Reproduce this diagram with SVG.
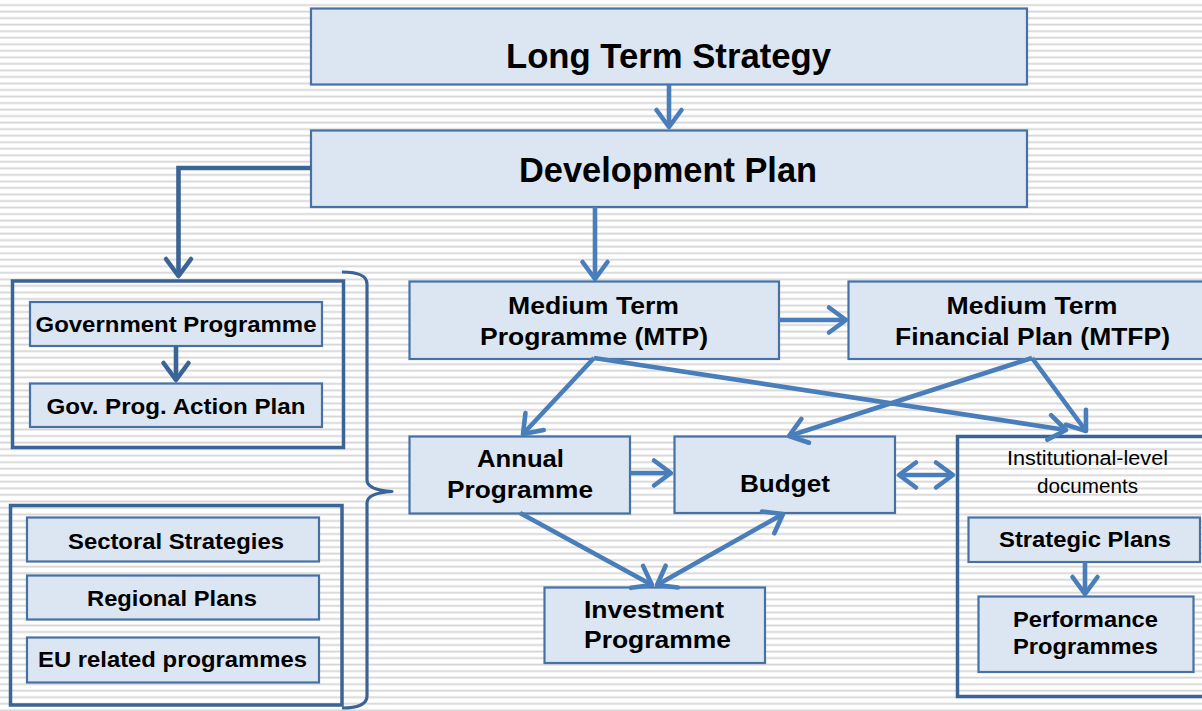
<svg xmlns="http://www.w3.org/2000/svg" width="1202" height="711" viewBox="0 0 1202 711">
  <defs>
    <!-- ruled paper background -->
    <pattern id="rules" patternUnits="userSpaceOnUse" x="0" y="3.6" width="20" height="6.53">
      <rect x="0" y="0.6" width="20" height="1.2" fill="#d1d1d1"/>
      <rect x="0" y="1.8" width="20" height="0.9" fill="#e6e6e6"/>
    </pattern>
    <!-- open chevron heads -->
    <marker id="head" markerUnits="userSpaceOnUse" viewBox="-22 -16 26 32" markerWidth="26" markerHeight="32" refX="0" refY="0" orient="auto-start-reverse" overflow="visible">
      <path d="M-17,-12.5 L0,0 L-17,12.5" fill="none" stroke="#4a7ebb" stroke-width="4.6" stroke-linecap="round" stroke-linejoin="round"/>
    </marker>
    <marker id="headDark" markerUnits="userSpaceOnUse" viewBox="-22 -16 26 32" markerWidth="26" markerHeight="32" refX="0" refY="0" orient="auto" overflow="visible">
      <path d="M-17,-12.5 L0,0 L-17,12.5" fill="none" stroke="#3a6496" stroke-width="4.6" stroke-linecap="round" stroke-linejoin="round"/>
    </marker>
    <style>
      .box { fill: #dce6f2; stroke: #4571a6; stroke-width: 2.2; }
      .frame { fill: none; stroke: #3a6496; stroke-width: 3.5; }
      .t { font-family: "Liberation Sans", Arial, sans-serif; font-weight: bold; fill: #000; text-anchor: middle; }
      .big { font-size: 35px; }
      .mid { font-size: 23.5px; }
      .small { font-size: 22.5px; }
      .plain { font-family: "Liberation Sans", Arial, sans-serif; font-size: 20px; fill: #000; text-anchor: middle; }
      .conn { fill: none; stroke: #4a7ebb; stroke-width: 4.6; }
      .connDark { fill: none; stroke: #3a6496; stroke-width: 4.6; }
    </style>
  </defs>

  <rect x="0" y="0" width="1202" height="711" fill="#ffffff"/>
  <rect x="0" y="0" width="1202" height="711" fill="url(#rules)"/>

  <!-- top level -->
  <g id="long-term-strategy">
    <rect class="box" x="311" y="8.5" width="716" height="76"/>
    <text class="t big" x="668.5" y="68" textLength="325" lengthAdjust="spacingAndGlyphs">Long Term Strategy</text>
  </g>
  <g id="development-plan">
    <rect class="box" x="311" y="130.5" width="716" height="76.5"/>
    <text class="t big" x="668" y="182" textLength="298" lengthAdjust="spacingAndGlyphs">Development Plan</text>
  </g>

  <!-- government frame -->
  <g id="government-frame">
    <rect class="frame" x="12.5" y="281" width="331" height="166.5"/>
  </g>
  <g id="government-programme">
    <rect class="box" x="30" y="302" width="292" height="44"/>
    <text class="t small" x="176" y="332" textLength="281" lengthAdjust="spacingAndGlyphs">Government Programme</text>
  </g>
  <g id="gov-action-plan">
    <rect class="box" x="30" y="383.5" width="292" height="43.5"/>
    <text class="t small" x="176" y="413.5" textLength="259" lengthAdjust="spacingAndGlyphs">Gov. Prog. Action Plan</text>
  </g>

  <!-- sectoral frame -->
  <g id="sectoral-frame">
    <rect class="frame" x="10.5" y="505.5" width="331.5" height="199.5"/>
  </g>
  <g id="sectoral-strategies">
    <rect class="box" x="27" y="517.5" width="292" height="44"/>
    <text class="t small" x="176" y="548.5" textLength="216" lengthAdjust="spacingAndGlyphs">Sectoral Strategies</text>
  </g>
  <g id="regional-plans">
    <rect class="box" x="27" y="575.5" width="292" height="44"/>
    <text class="t small" x="172" y="605.5" textLength="170" lengthAdjust="spacingAndGlyphs">Regional Plans</text>
  </g>
  <g id="eu-programmes">
    <rect class="box" x="27" y="637.5" width="292" height="45"/>
    <text class="t small" x="172.5" y="667" textLength="269" lengthAdjust="spacingAndGlyphs">EU related programmes</text>
  </g>

  <!-- curly brace grouping both frames -->
  <g id="brace">
    <path d="M342,272 Q367,272 367,284 V480 Q367,490 392,491.5 Q367,493 367,503 V696 Q367,708 342,708" fill="none" stroke="#3a6496" stroke-width="3.2" stroke-linejoin="round"/>
  </g>

  <!-- medium term level -->
  <g id="mtp">
    <rect class="box" x="409.5" y="281.5" width="369.5" height="77.5"/>
    <text class="t mid" x="593.5" y="313.5" textLength="171" lengthAdjust="spacingAndGlyphs">Medium Term</text>
    <text class="t mid" x="594" y="345" textLength="228" lengthAdjust="spacingAndGlyphs">Programme (MTP)</text>
  </g>
  <g id="mtfp">
    <rect class="box" x="848.5" y="281.5" width="360" height="77.5"/>
    <text class="t mid" x="1032" y="313.5" textLength="171" lengthAdjust="spacingAndGlyphs">Medium Term</text>
    <text class="t mid" x="1032.5" y="345" textLength="275" lengthAdjust="spacingAndGlyphs">Financial Plan (MTFP)</text>
  </g>

  <!-- annual level -->
  <g id="annual-programme">
    <rect class="box" x="409.5" y="436.5" width="220.5" height="77"/>
    <text class="t mid" x="520.5" y="467" textLength="87" lengthAdjust="spacingAndGlyphs">Annual</text>
    <text class="t mid" x="520" y="498" textLength="146" lengthAdjust="spacingAndGlyphs">Programme</text>
  </g>
  <g id="budget">
    <rect class="box" x="674.5" y="436.5" width="220.5" height="76.5"/>
    <text class="t mid" x="785" y="492" textLength="90" lengthAdjust="spacingAndGlyphs">Budget</text>
  </g>
  <g id="investment-programme">
    <rect class="box" x="544.5" y="587.5" width="220.5" height="75.5"/>
    <text class="t mid" x="654" y="618" textLength="140" lengthAdjust="spacingAndGlyphs">Investment</text>
    <text class="t mid" x="657.5" y="648" textLength="147" lengthAdjust="spacingAndGlyphs">Programme</text>
  </g>

  <!-- institutional level -->
  <g id="institutional-frame">
    <rect class="frame" x="957.5" y="436.5" width="260" height="260"/>
    <text class="plain" x="1087.5" y="465" textLength="161" lengthAdjust="spacingAndGlyphs">Institutional-level</text>
    <text class="plain" x="1087.5" y="493" textLength="101" lengthAdjust="spacingAndGlyphs">documents</text>
  </g>
  <g id="strategic-plans">
    <rect class="box" x="968.5" y="517.5" width="231.5" height="44.5"/>
    <text class="t small" x="1085" y="546.5" textLength="172" lengthAdjust="spacingAndGlyphs">Strategic Plans</text>
  </g>
  <g id="performance-programmes">
    <rect class="box" x="978.5" y="596.5" width="215" height="75.5"/>
    <text class="t small" x="1085.5" y="627" textLength="145" lengthAdjust="spacingAndGlyphs">Performance</text>
    <text class="t small" x="1085.5" y="654" textLength="145" lengthAdjust="spacingAndGlyphs">Programmes</text>
  </g>

  <!-- connectors -->
  <g id="connectors">
    <line class="conn" x1="669" y1="85" x2="669" y2="127" marker-end="url(#head)"/>
    <line class="conn" x1="595" y1="207" x2="595" y2="279" marker-end="url(#head)"/>
    <path class="connDark" d="M311,168 H178.5 V276" marker-end="url(#headDark)"/>
    <line class="connDark" x1="176" y1="346" x2="176" y2="380" marker-end="url(#headDark)"/>
    <line class="conn" x1="779" y1="320" x2="846" y2="320" stroke-width="5.2" marker-end="url(#head)"/>
    <line class="conn" x1="594" y1="358" x2="523" y2="434" marker-end="url(#head)"/>
    <line class="conn" x1="594" y1="358" x2="1066" y2="430" marker-end="url(#head)"/>
    <line class="conn" x1="1032" y1="358" x2="789" y2="436" marker-end="url(#head)"/>
    <line class="conn" x1="1032" y1="358" x2="1086" y2="431" marker-end="url(#head)"/>
    <line class="conn" x1="630" y1="473" x2="671" y2="473" stroke-width="5.2" marker-end="url(#head)"/>
    <line class="conn" x1="899" y1="475" x2="953" y2="475" stroke-width="5.2" marker-start="url(#head)" marker-end="url(#head)"/>
    <line class="conn" x1="520" y1="513" x2="652" y2="585" marker-end="url(#head)"/>
    <line class="conn" x1="657" y1="585" x2="783" y2="514" marker-start="url(#head)" marker-end="url(#head)"/>
    <line class="conn" x1="1085" y1="562" x2="1085" y2="594" marker-end="url(#head)"/>
  </g>
</svg>
